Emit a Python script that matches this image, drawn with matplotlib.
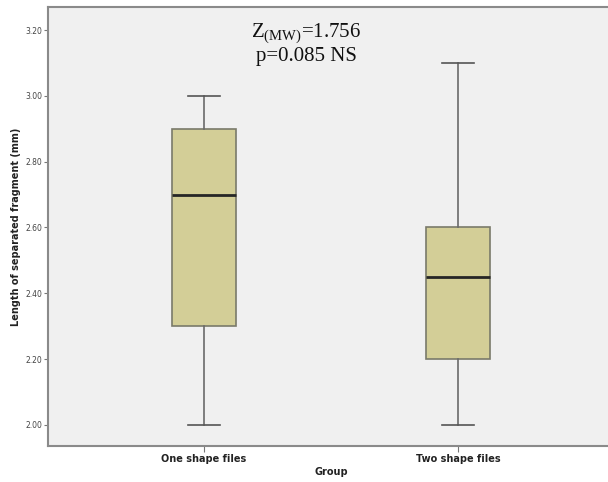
import matplotlib
matplotlib.use("Agg")
import matplotlib.pyplot as plt

groups = ["One shape files", "Two shape files"]
whisker_low = [2.00, 2.00]
q1 = [2.30, 2.20]
medians = [2.70, 2.45]
q3 = [2.90, 2.60]
whisker_high = [3.00, 3.10]
yticks = [2.00, 2.20, 2.40, 2.60, 2.80, 3.00, 3.20]

plt.rcParams['mathtext.fontset'] = 'custom'
plt.rcParams['mathtext.rm'] = 'Liberation Serif'

fig = plt.figure(figsize=(6.08, 4.82), dpi=100)
ax = fig.add_axes([48/608, 36/482, 566/608, 439/482])
ax.set_facecolor('#f0f0f0')

stats = []
for i, g in enumerate(groups):
    stats.append(dict(label=g, whislo=whisker_low[i], q1=q1[i], med=medians[i],
                      q3=q3[i], whishi=whisker_high[i], fliers=[]))

ax.bxp(stats, positions=[1, 2], widths=0.252, patch_artist=True, showfliers=False,
       boxprops=dict(facecolor='#d3ce97', edgecolor='#7a7a6a', linewidth=1.2),
       medianprops=dict(color='#262626', linewidth=2),
       whiskerprops=dict(color='#6a6a6a', linewidth=1.2),
       capprops=dict(color='#555555', linewidth=1.2),
       capwidths=0.126)

ax.set_xlim(0.386, 2.614)
ax.set_ylim(1.936, 3.27)
ax.set_yticks(yticks)
ax.set_yticklabels([f"{v:.2f}" for v in yticks], fontsize=5.5, color='#444444')
ax.set_xticks([1, 2])
ax.set_xticklabels(groups, fontsize=7, fontweight='bold', color='#222222')
ax.tick_params(axis='y', length=3, color='#777777', pad=1)
ax.tick_params(axis='x', length=4, color='#777777', pad=2)
for s in ax.spines.values():
    s.set_color('#8a8a8a')
    s.set_linewidth(1.5)

ax.set_ylabel("Length of separated fragment (mm)", fontsize=7, fontweight='bold',
              color='#222222', labelpad=3)
ax.set_xlabel("Group", fontsize=7, fontweight='bold', color='#222222', labelpad=2)

fig.text(306/608, 1 - 34/482, r"Z$_{\mathrm{(MW)}}$=1.756", ha='center', va='center',
         fontsize=15, family='Liberation Serif', color='#111111')
fig.text(306/608, 1 - 57/482, "p=0.085 NS", ha='center', va='center',
         fontsize=15, family='Liberation Serif', color='#111111')

fig.savefig("out.png", dpi=100)
